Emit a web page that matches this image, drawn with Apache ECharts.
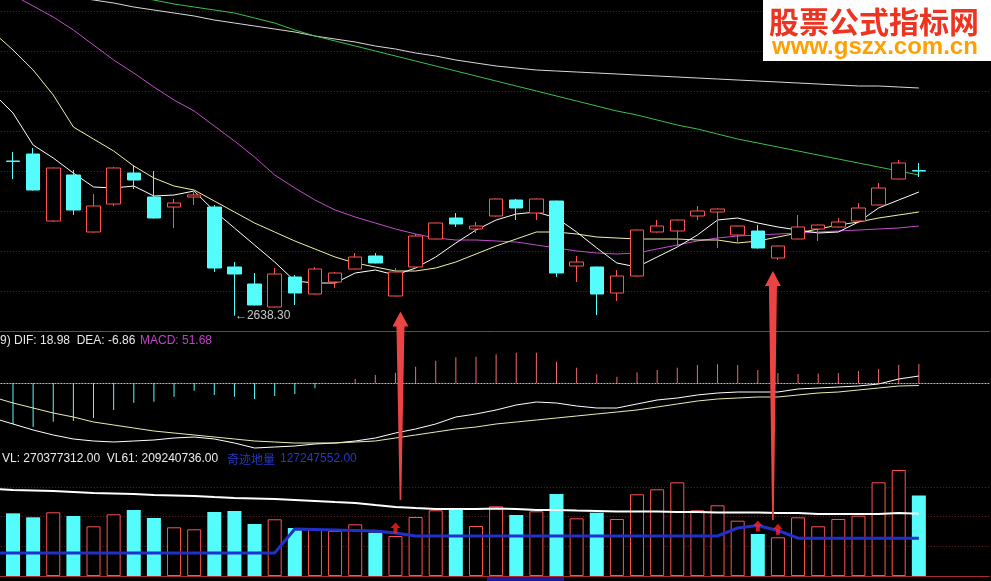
<!DOCTYPE html>
<html><head><meta charset="utf-8">
<script src="https://cdn.jsdelivr.net/npm/echarts/dist/echarts.min.js"></script>
<style>html,body{margin:0;padding:0;background:#000;}#c{width:991px;height:581px;}</style>
</head><body><div id="c"></div>
<script>
// ---- data (k = -1 .. 45) ----
const dates = ['2016-01-11','2016-01-12','2016-01-13','2016-01-14','2016-01-15','2016-01-18','2016-01-19','2016-01-20','2016-01-21','2016-01-22','2016-01-25','2016-01-26','2016-01-27','2016-01-28','2016-01-29','2016-02-01','2016-02-02','2016-02-03','2016-02-04','2016-02-05','2016-02-15','2016-02-16','2016-02-17','2016-02-18','2016-02-19','2016-02-22','2016-02-23','2016-02-24','2016-02-25','2016-02-26','2016-02-29','2016-03-01','2016-03-02','2016-03-03','2016-03-04','2016-03-07','2016-03-08','2016-03-09','2016-03-10','2016-03-11','2016-03-14','2016-03-15','2016-03-16','2016-03-17','2016-03-18','2016-03-21','2016-03-22'];
const emptySlots = ['2016-03-23','2016-03-24','2016-03-25'];

const open  = [3127.5,3025,3042.5,2875,2990,2847.5,2917.5,2995,2935,2910,2935,2910,2760,2717.5,2660,2735,2692.5,2722.5,2755,2787.5,2687.5,2760,2830,2882.5,2855,2887.5,2927.5,2895,2925,2762.5,2760,2695,2737.5,2847.5,2850,2887.5,2897.5,2840,2850,2782.5,2830,2855,2860,2875,2915,2980,3001];
const close = [3020,3023.8,2952.5,3007.5,2902.5,2912.5,3007.5,2977.5,2882.5,2920,2940,2757.5,2742.5,2665,2742.5,2695,2755,2745,2785,2770,2747.5,2837.5,2870,2867.5,2862.5,2930,2907.5,2930,2745,2772.5,2692.5,2737.5,2852.5,2862.5,2877.5,2900,2905,2862.5,2807.5,2812.5,2860,2865,2872.5,2907.5,2957.5,3020,3000];
const low   = [3015,2980,2951,2872.5,2890,2846,2912.5,2955,2881,2857.5,2915,2747.5,2638.3,2664,2659,2665,2691,2707.5,2754,2769,2686,2759,2829,2860,2845,2886,2877.5,2877.5,2735,2722.5,2640,2675,2736,2846,2810,2877.5,2807.5,2820,2806,2777.5,2829,2825,2859,2870,2914,2979,2985];
const high  = [3132.5,3047.5,3057.5,3009,3002.5,2942.5,3010,3015,3000,2930,2955,2915,2772.5,2745,2757.5,2740,2760,2747.5,2795,2795,2757.5,2842.5,2871,2895,2872.5,2931,2930,2931,2926,2787.5,2761,2752.5,2854,2877.5,2879,2912.5,2906,2864,2865,2814,2890,2866,2882.5,2920,2970,3027.5,3020];

const ma5   = [3195,3145,3065,3032.5,2995,2960,2957.5,2962.5,2937.5,2940,2950,2900,2857.5,2815,2772.5,2725,2720,2720,2745,2752.5,2740,2757.5,2785,2820,2852.5,2877.5,2892.5,2897.5,2882.5,2847.5,2807.5,2770,2760,2785,2810,2840,2877.5,2882.5,2870,2860,2852.5,2845,2847.5,2872.5,2907.5,2927.5,2947.5];
const ma10  = [3347.5,3302.5,3252.5,3190,3110,3080,3050,3012.5,2982.5,2962.5,2952.5,2925,2897.5,2870,2847.5,2825,2805,2785,2770,2760,2750,2750,2757.5,2772.5,2792.5,2812.5,2830,2847.5,2847.5,2842.5,2835,2832.5,2830,2830,2830,2827.5,2827.5,2820,2825,2835,2845,2855,2865,2872.5,2882.5,2890,2897.5];
const ma30  = [3457.5,3440,3412.5,3385,3352.5,3315,3277.5,3245,3210,3177.5,3150,3112.5,3075,3035,2990,2957.5,2927.5,2902.5,2885,2870,2855,2842.5,2832.5,2827.5,2827.5,2825,2822.5,2815,2807.5,2800,2795,2792.5,2795,2805,2815,2825,2832.5,2837.5,2840,2842.5,2845,2847.5,2850,2852.5,2855,2857.5,2862.5];
const ma60  = [3490,3482.5,3475,3467.5,3460,3450,3442.5,3435,3427.5,3417.5,3410,3402.5,3395,3382.5,3370,3352.5,3337.5,3325,3312.5,3300,3287.5,3275,3262.5,3250,3237.5,3225,3212.5,3200,3187.5,3175,3162.5,3150,3140,3127.5,3115,3105,3092.5,3080,3070,3060,3050,3040,3030,3020,3010,3000,2990];
const ma120 = [3465,3460,3452.5,3445,3435,3427.5,3420,3410,3402.5,3395,3387.5,3377.5,3370,3362.5,3355,3347.5,3337.5,3330,3322.5,3312.5,3305,3295,3287.5,3277.5,3270,3262.5,3257.5,3252.5,3250,3247.5,3245,3242.5,3240,3237.5,3235,3232.5,3230,3227.5,3225,3222.5,3220,3217.5,3215,3212.5,3212.5,3210,3207.5];

const macd = [-110,-111.5,-119.7,-105.3,-103.4,-95.2,-73.4,-53.6,-50.9,-37.3,-20.9,-32.6,-37.3,-43.5,-35.4,-29.9,-14.4,-1,10.9,21.8,28.0,44.3,60.7,69.9,71.5,78.1,82.4,82.4,57.9,41.6,23.7,17.1,29.1,35.4,41.6,49.0,50.9,49.0,35.4,27.2,24.5,25.8,27.2,32.6,38.1,49.0,51.68];
const dif  = [-95.2,-111.5,-127.8,-141.4,-152.3,-157.8,-160.5,-157.8,-155.0,-149.6,-146.9,-152.3,-163.2,-176.8,-174.1,-171.4,-165.9,-163.2,-157.8,-149.6,-136.0,-125.1,-111.5,-92.5,-84.3,-73.4,-59.8,-51.7,-54.4,-62.6,-68.0,-68.0,-57.1,-46.2,-40.8,-32.6,-27.2,-24.5,-24.5,-24.5,-16.3,-13.6,-10.9,-8.2,-2.7,10.9,18.98];
const dea  = [-38.1,-54.4,-68.0,-81.6,-92.5,-106.1,-114.2,-122.4,-130.6,-136.0,-141.4,-146.9,-152.3,-157.8,-160.5,-163.2,-163.2,-163.2,-160.5,-157.8,-149.6,-141.4,-133.3,-125.1,-119.7,-111.5,-106.1,-100.6,-95.2,-89.8,-84.3,-78.9,-73.4,-65.3,-57.1,-49.0,-43.5,-40.8,-38.1,-38.1,-32.6,-27.2,-24.5,-19.0,-13.6,-8.2,-6.86];

const vol  = [221800000,210700000,197300000,214100000,201700000,167000000,207400000,221800000,194900000,163700000,157000000,215100000,218500000,174800000,190600000,161300000,157000000,151200000,173800000,145500000,134400000,198300000,220800000,224200000,168100000,234300000,205000000,217500000,275600000,193900000,212800000,191600000,274600000,291400000,314900000,220800000,237600000,185900000,141200000,130100000,197300000,167000000,191600000,202700000,314900000,356300000,270377312];
const vl61 = [292400000,289000000,287400000,285700000,282300000,279000000,277300000,275600000,272200000,270600000,268900000,265500000,262200000,260500000,258800000,255400000,252100000,248700000,245400000,238600000,231900000,228500000,225200000,225200000,225200000,226900000,225200000,221800000,221800000,220100000,218500000,216800000,216800000,216800000,215100000,215100000,213400000,213400000,213400000,211700000,211700000,208400000,208400000,208400000,208400000,211700000,209240736];
const miracleVol = [77300000,77300000,77300000,77300000,77300000,77300000,77300000,77300000,77300000,77300000,77300000,77300000,77300000,77300000,77300000,158000000,156300000,154600000,152900000,151200000,144500000,134400000,134400000,134400000,134400000,134400000,134400000,134400000,134400000,134400000,134400000,134400000,134400000,134400000,134400000,134400000,134400000,161300000,169700000,152900000,127247552,127247552,127247552,127247552,127247552,127247552,127247552];
const signalDates = ['2016-02-15','2016-03-10','2016-03-11'];
const lowMark = {date:'2016-01-27', value:2638.30};
const noteArrows = [{date:'2016-02-15', dx:5, gap:15, tailY:500}, {date:'2016-03-11', dx:-5, gap:11, tailY:520}];

// ---- styling ----
const RED = '#ff5252', CYAN = '#54fcfc', SEP = '#b02a2a', GRIDC = '#6e2020';
const cats = dates.concat(emptySlots);
const GL = -17.2, GR = 1.7;
const chart = echarts.init(document.getElementById('c'), null, {renderer:'canvas'});

const xAx = (gi) => ({type:'category', gridIndex:gi, data:cats, boundaryGap:true,
  axisLine:{show:true, lineStyle:{color:SEP, width:1}}, axisTick:{show:false}, axisLabel:{show:false}, splitLine:{show:false}});

const lineS = (name, data, color, xi, yi, w) => ({name, type:'line', data, xAxisIndex:xi, yAxisIndex:yi,
  showSymbol:false, symbol:'none', silent:true, lineStyle:{color, width:w||1}, z:3});

const gridBase = {left:GL, right:GR, containLabel:false, outerBoundsMode:'none'};
const option = {
  backgroundColor:'#000000',
  animation:false,
  grid:[
    Object.assign({top:0, height:331}, gridBase),
    Object.assign({top:331, height:120}, gridBase),
    Object.assign({top:457, height:119}, gridBase)
  ],
  xAxis:[xAx(0), xAx(1), xAx(2)],
  yAxis:[
    {type:'value', gridIndex:0, min:2600, max:3427.5, interval:100, axisLabel:{show:false}, axisLine:{show:false}, axisTick:{show:false},
      splitLine:{show:true, showMinLine:false, showMaxLine:false, lineStyle:{color:GRIDC, type:[1,2], width:1}}},
    {type:'value', gridIndex:1, min:-184.96, max:141.44, axisLabel:{show:false}, axisLine:{show:false}, axisTick:{show:false}, splitLine:{show:false}},
    {type:'value', gridIndex:2, min:0, max:400000000, interval:100000000, axisLabel:{show:false}, axisLine:{show:false}, axisTick:{show:false},
      splitLine:{show:true, showMinLine:false, showMaxLine:false, lineStyle:{color:GRIDC, type:[1,2], width:1}}}
  ],
  series:[
    {name:'K', type:'candlestick', xAxisIndex:0, yAxisIndex:0, barWidth:14, z:5,
      data: dates.map((d,i)=>[open[i], close[i], low[i], high[i]]),
      itemStyle:{color:'#000000', color0:CYAN, borderColor:RED, borderColor0:CYAN, borderWidth:1},
      markPoint:{symbol:'circle', symbolSize:1, itemStyle:{color:'rgba(0,0,0,0)'}, silent:true,
        label:{show:true, position:'right', distance:0, color:'#c8c8c8', fontSize:12, fontFamily:'Liberation Sans',
          formatter:(p)=>'\u2190' + Number(p.value).toFixed(2)},
        data:[{coord:[lowMark.date, lowMark.value], value:lowMark.value}]}
    },
    lineS('MA120', ma120, '#d8d8d8', 0, 0),
    lineS('MA60', ma60, '#3fbf4a', 0, 0),
    lineS('MA30', ma30, '#c44ccc', 0, 0),
    lineS('MA10', ma10, '#f2f0a8', 0, 0),
    lineS('MA5', ma5, '#ffffff', 0, 0),

    {name:'MACD', type:'bar', xAxisIndex:1, yAxisIndex:1, barWidth:1, silent:true,
      data: macd.map(v=>({value:v, itemStyle:{color: v>=0 ? '#f06a6a' : CYAN}})),
      markLine:{silent:true, symbol:['none','none'], label:{show:false},
        lineStyle:{color:'#d8d8d8', type:[1,2], width:1}, data:[{yAxis:0}]}},
    lineS('DIF', dif, '#ffffff', 1, 1),
    lineS('DEA', dea, '#ecebb0', 1, 1),

    {name:'VOL', type:'bar', xAxisIndex:2, yAxisIndex:2, barWidth:14, silent:true, z:2,
      data: vol.map((v,i)=>({value:v, itemStyle: close[i] < open[i] ? {color:CYAN, borderColor:CYAN, borderWidth:0} : {color:'#000000', borderColor:RED, borderWidth:1}}))},
    lineS('VL61', vl61, '#ffffff', 2, 2, 2),
    lineS('奇迹地量', miracleVol, '#2030c8', 2, 2, 3),
    {name:'signal', type:'scatter', xAxisIndex:2, yAxisIndex:2, silent:true, z:10,
      symbol:'path://M5 0 L10 5 L7 5 L7 10 L3 10 L3 5 L0 5 Z', symbolSize:[10,11], symbolOffset:[0,-8],
      itemStyle:{color:'#ff2222'},
      data: signalDates.map(d=>[d, vol[dates.indexOf(d)]])}
  ]
};
chart.setOption(option);

// ---- texts, watermark and annotation arrows ----
const g = [
  {type:'text', x:0, y:341, z:50, style:{text:'9) DIF: 18.98  DEA: -6.86', fill:'#e8e8e8', font:'12px "Liberation Sans", Arial', textVerticalAlign:'middle'}},
  {type:'text', x:140, y:341, z:50, style:{text:'MACD: 51.68', fill:'#c040c8', font:'12px "Liberation Sans", Arial', textVerticalAlign:'middle'}},
  {type:'text', x:2, y:459, z:50, style:{text:'VL: 270377312.00  VL61: 209240736.00', fill:'#ececec', font:'12px "Liberation Sans", Arial', textVerticalAlign:'middle'}},
  {type:'text', x:227, y:459, z:50, style:{text:'奇迹地量', fill:'#2438c8', font:'12px "Noto Sans CJK SC"', textVerticalAlign:'middle'}},
  {type:'text', x:280, y:459, z:50, style:{text:'127247552.00', fill:'#2438c8', font:'12px "Liberation Sans", Arial', textVerticalAlign:'middle'}},
  {type:'rect', z:60, shape:{x:763, y:0, width:228, height:61}, style:{fill:'#ffffff'}},
  {type:'text', x:769, y:22, z:61, style:{text:'股票公式指标网', fill:'#ee3420', font:'bold 30px "Noto Sans CJK SC"', textVerticalAlign:'middle'}},
  {type:'text', x:772, y:47, z:61, style:{text:'www.gszx.com.cn', fill:'#ffa000', font:'bold 24px "Liberation Sans", Arial', textVerticalAlign:'middle'}},
  {type:'rect', z:40, shape:{x:487, y:577, width:77, height:6}, style:{fill:'#1a1a9a'}}
];
noteArrows.forEach(n=>{
  const i = dates.indexOf(n.date);
  const p = chart.convertToPixel({gridIndex:0}, [n.date, low[i]]);
  const cx = p[0] + n.dx, tip = p[1] + n.gap, tail = n.tailY;
  g.push({type:'polygon', z:70, shape:{points:[[cx,tip],[cx+8,tip+15],[cx+4,tip+15],[cx+0.8,tail],[cx-0.8,tail],[cx-4,tip+15],[cx-8,tip+15]]},
    style:{fill:'#ec4444'}});
});
chart.setOption({graphic:g});
</script>
</body></html>
